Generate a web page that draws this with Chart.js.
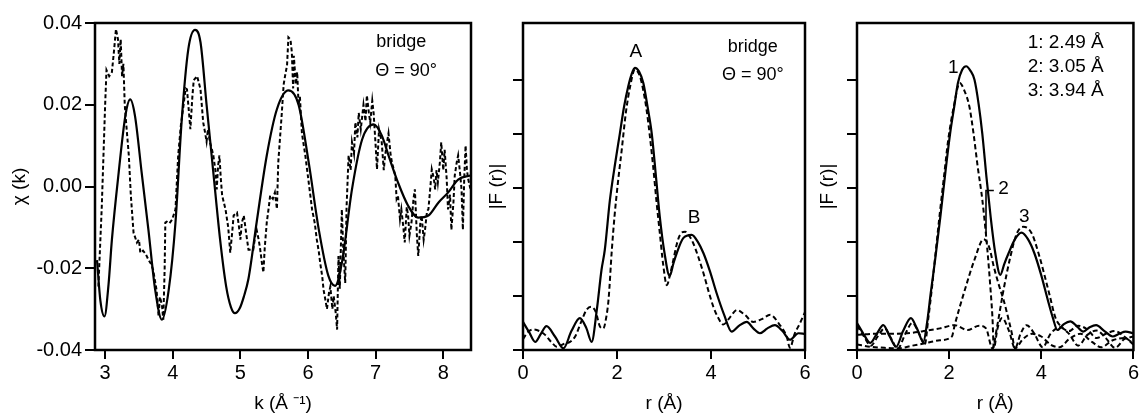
<!DOCTYPE html>
<html>
<head>
<meta charset="utf-8">
<script src="https://cdn.jsdelivr.net/npm/chart.js@4.4.0/dist/chart.umd.min.js"></script>
<style>
  html, body { margin: 0; padding: 0; background: #fff; }
  body { width: 1141px; height: 413px; position: relative; overflow: hidden; }
  canvas { position: absolute; top: 0; }
</style>
</head>
<body>
<canvas id="chi" width="478" height="413" style="left:0px"></canvas>
<canvas id="ft" width="337" height="413" style="left:478px"></canvas>
<canvas id="shells" width="326" height="413" style="left:815px"></canvas>
<script>
// χ(k) : 実験（破線）とフィット（実線）
const kFit = [2.88, 2.93, 2.99, 3.05, 3.10, 3.20, 3.30, 3.37, 3.44, 3.54, 3.64, 3.74, 3.84, 3.94, 4.04, 4.13, 4.23, 4.33, 4.41, 4.50, 4.60, 4.70, 4.79, 4.86, 4.92, 4.99, 5.05, 5.12, 5.24, 5.39, 5.54, 5.71, 5.86, 6.01, 6.16, 6.30, 6.40, 6.50, 6.65, 6.80, 6.97, 7.09, 7.19, 7.33, 7.48, 7.63, 7.78, 7.93, 8.07, 8.22, 8.40];
const chiFit = [-0.018, -0.028, -0.0318, -0.024, -0.013, 0.0034, 0.0174, 0.0213, 0.0174, 0.0034, -0.0106, -0.0253, -0.0326, -0.0253, -0.0088, 0.0157, 0.0336, 0.0383, 0.0353, 0.020, 0.0034, -0.013, -0.0245, -0.0295, -0.031, -0.0298, -0.027, -0.0225, -0.0088, 0.0076, 0.0189, 0.0235, 0.020, 0.0059, -0.0106, -0.0218, -0.0243, -0.0187, -0.0007, 0.0115, 0.0152, 0.0125, 0.0076, 0.001, -0.0047, -0.0076, -0.0071, -0.0039, -0.0015, 0.0017, 0.0027];

const kExp = [2.90, 2.95, 3.00, 3.02, 3.06, 3.10, 3.13, 3.16, 3.19, 3.21, 3.23, 3.25, 3.27, 3.29, 3.31, 3.35, 3.38, 3.42, 3.47, 3.50, 3.52, 3.56, 3.60, 3.64, 3.68, 3.71, 3.76, 3.79, 3.81, 3.84, 3.86, 3.88, 3.89, 3.91, 3.95, 3.99, 4.04, 4.08, 4.12, 4.16, 4.19, 4.21, 4.24, 4.26, 4.29, 4.31, 4.36, 4.41, 4.45, 4.48, 4.50, 4.52, 4.55, 4.58, 4.60, 4.63, 4.65, 4.67, 4.69, 4.71, 4.73, 4.78, 4.82, 4.85, 4.88, 4.90, 4.95, 4.98, 5.00, 5.02, 5.05, 5.09, 5.12, 5.16, 5.19, 5.22, 5.24, 5.27, 5.29, 5.32, 5.34, 5.36, 5.39, 5.42, 5.44, 5.48, 5.51, 5.54, 5.56, 5.61, 5.64, 5.66, 5.69, 5.71, 5.74, 5.76, 5.78, 5.79, 5.82, 5.84, 5.86, 5.88, 5.90, 5.91, 5.96, 6.01, 6.06, 6.10, 6.13, 6.16, 6.18, 6.21, 6.23, 6.26, 6.28, 6.31, 6.33, 6.36, 6.38, 6.41, 6.43, 6.45, 6.47, 6.50, 6.52, 6.55, 6.57, 6.60, 6.63, 6.65, 6.68, 6.70, 6.73, 6.75, 6.78, 6.82, 6.85, 6.87, 6.90, 6.92, 6.95, 6.97, 7.00, 7.02, 7.05, 7.07, 7.09, 7.12, 7.14, 7.17, 7.19, 7.22, 7.24, 7.27, 7.29, 7.31, 7.33, 7.36, 7.38, 7.41, 7.43, 7.46, 7.48, 7.50, 7.53, 7.56, 7.58, 7.61, 7.63, 7.66, 7.68, 7.71, 7.73, 7.76, 7.78, 7.81, 7.83, 7.86, 7.88, 7.90, 7.92, 7.95, 7.97, 8.00, 8.02, 8.05, 8.07, 8.10, 8.12, 8.15, 8.17, 8.20, 8.22, 8.25, 8.27, 8.29, 8.31, 8.33, 8.35, 8.37, 8.40];
const chiExp = [-0.0245, -0.005, 0.020, 0.0285, 0.027, 0.028, 0.033, 0.0385, 0.036, 0.030, 0.036, 0.027, 0.030, 0.020, 0.0157, 0.0076, -0.0022, -0.0113, -0.0137, -0.013, -0.0162, -0.0157, -0.0165, -0.0179, -0.019, -0.0204, -0.0253, -0.0317, -0.027, -0.029, -0.0326, -0.020, -0.0088, -0.0086, -0.009, -0.0081, -0.0056, 0.0076, 0.015, 0.020, 0.024, 0.0238, 0.018, 0.014, 0.022, 0.026, 0.027, 0.0238, 0.0157, 0.013, 0.011, 0.014, 0.0108, 0.009, 0.0076, 0.004, -0.0007, 0.005, 0.0076, 0.002, -0.0022, -0.0056, -0.010, -0.0162, -0.011, -0.0071, -0.0064, -0.010, -0.013, -0.009, -0.0071, -0.012, -0.0155, -0.0155, -0.0155, -0.012, -0.0106, -0.013, -0.015, -0.019, -0.021, -0.015, -0.0088, -0.005, -0.0022, -0.003, -0.0015, -0.0055, 0.0059, 0.0174, 0.025, 0.027, 0.0297, 0.0365, 0.036, 0.033, 0.024, 0.032, 0.025, 0.028, 0.020, 0.022, 0.016, 0.013, 0.0076, 0.001, -0.0056, -0.009, -0.013, -0.016, -0.0187, -0.022, -0.0253, -0.028, -0.030, -0.026, -0.0245, -0.030, -0.0268, -0.031, -0.035, -0.017, -0.025, -0.0056, -0.015, -0.0236, -0.005, 0.0076, 0.004, 0.0108, 0.008, 0.0157, 0.012, 0.018, 0.014, 0.020, 0.016, 0.0223, 0.018, 0.0157, 0.021, 0.018, 0.010, 0.0042, 0.014, 0.0125, 0.0108, 0.004, 0.0076, 0.011, 0.013, 0.008, 0.006, 0.004, 0.0027, -0.003, -0.0022, -0.008, -0.0056, -0.010, -0.0137, -0.005, -0.0071, -0.012, -0.0088, -0.003, -0.0007, -0.012, -0.017, -0.009, -0.0071, -0.013, -0.0106, -0.006, -0.0056, 0.0, 0.0042, 0.002, -0.0007, 0.004, 0.001, 0.006, 0.0108, 0.004, 0.009, 0.002, -0.0056, -0.002, -0.0106, -0.004, 0.0027, 0.006, 0.0076, 0.003, -0.0007, -0.0106, 0.002, 0.010, 0.004, 0.0017, -0.0005];

const kTicks = [3, 4, 5, 6, 7, 8];
const chiTicks = [-0.04, -0.02, 0.00, 0.02, 0.04];

// |F(r)| : フーリエ変換（中央）
const rFit = [0.0, 0.13, 0.26, 0.38, 0.50, 0.68, 0.86, 1.03, 1.21, 1.35, 1.46, 1.57, 1.67, 1.74, 1.85, 1.96, 2.06, 2.15, 2.24, 2.31, 2.38, 2.47, 2.56, 2.65, 2.74, 2.83, 2.91, 3.01, 3.12, 3.20, 3.27, 3.41, 3.59, 3.72, 3.84, 3.98, 4.12, 4.28, 4.44, 4.60, 4.76, 4.90, 5.04, 5.20, 5.36, 5.52, 5.68, 5.86, 6.0];
const fFit = [0.52, 0.33, 0.15, 0.30, 0.44, 0.25, 0.03, 0.35, 0.59, 0.40, 0.15, 0.74, 1.48, 1.85, 2.78, 3.45, 4.0, 4.5, 4.88, 5.10, 5.22, 5.15, 4.94, 4.5, 4.0, 3.2, 2.47, 1.80, 1.37, 1.60, 1.79, 2.07, 2.13, 2.0, 1.79, 1.45, 1.05, 0.65, 0.34, 0.45, 0.52, 0.40, 0.31, 0.40, 0.46, 0.35, 0.19, 0.31, 0.30];
const rExp = [0.0, 0.10, 0.22, 0.35, 0.47, 0.60, 0.72, 0.89, 1.0, 1.11, 1.25, 1.35, 1.45, 1.55, 1.64, 1.71, 1.77, 1.82, 1.89, 1.95, 2.02, 2.10, 2.19, 2.28, 2.38, 2.49, 2.56, 2.63, 2.70, 2.77, 2.84, 2.91, 2.98, 3.06, 3.13, 3.20, 3.27, 3.34, 3.45, 3.53, 3.62, 3.73, 3.84, 3.95, 4.05, 4.15, 4.26, 4.40, 4.55, 4.72, 4.90, 5.08, 5.26, 5.45, 5.61, 5.68, 5.78, 5.89, 6.0];
const fExp = [0.20, 0.33, 0.38, 0.35, 0.28, 0.15, 0.06, 0.12, 0.15, 0.25, 0.55, 0.74, 0.80, 0.70, 0.43, 0.40, 0.60, 0.93, 1.85, 2.5, 3.1, 3.70, 4.4, 4.88, 5.19, 5.06, 4.8, 4.44, 3.95, 3.39, 2.75, 2.17, 1.6, 1.20, 1.4, 1.67, 1.95, 2.13, 2.19, 2.12, 1.98, 1.72, 1.42, 1.08, 0.80, 0.60, 0.47, 0.60, 0.74, 0.65, 0.52, 0.57, 0.65, 0.48, 0.25, 0.04, 0.30, 0.49, 0.70];

// |F(r)| : 殻ごとの分解（右）
const rTot = [0.0, 0.14, 0.29, 0.43, 0.57, 0.71, 0.85, 1.0, 1.17, 1.30, 1.44, 1.52, 1.60, 1.70, 1.81, 1.92, 2.02, 2.11, 2.19, 2.28, 2.37, 2.46, 2.55, 2.64, 2.72, 2.81, 2.90, 3.0, 3.11, 3.20, 3.29, 3.43, 3.57, 3.71, 3.85, 4.0, 4.14, 4.25, 4.35, 4.49, 4.63, 4.77, 4.91, 5.05, 5.19, 5.37, 5.55, 5.69, 5.83, 6.0];
const fTot = [0.50, 0.30, 0.13, 0.30, 0.46, 0.25, 0.06, 0.35, 0.59, 0.40, 0.15, 0.50, 1.05, 1.70, 2.47, 3.30, 4.0, 4.5, 4.94, 5.18, 5.25, 5.17, 5.0, 4.55, 4.0, 3.2, 2.47, 1.80, 1.39, 1.60, 1.79, 2.05, 2.17, 2.05, 1.79, 1.38, 0.93, 0.60, 0.37, 0.48, 0.53, 0.44, 0.34, 0.42, 0.46, 0.35, 0.25, 0.30, 0.34, 0.31];
const rS1 = [0.0, 0.15, 0.30, 0.45, 0.60, 0.75, 0.88, 1.05, 1.20, 1.35, 1.47, 1.55, 1.62, 1.70, 1.80, 1.90, 1.98, 2.10, 2.23, 2.33, 2.44, 2.53, 2.62, 2.72, 2.83, 2.90, 2.94, 2.97, 3.05, 3.15, 3.30, 3.43, 3.55, 3.68, 3.85, 4.03, 4.20, 4.40, 4.60, 4.80, 5.0, 5.20, 5.40, 5.60, 5.80, 6.0];
const fS1 = [0.45, 0.25, 0.08, 0.25, 0.40, 0.20, 0.02, 0.30, 0.50, 0.30, 0.10, 0.60, 1.10, 1.75, 2.55, 3.30, 3.89, 4.5, 4.94, 4.8, 4.5, 4.0, 3.39, 2.78, 1.85, 1.10, 0.60, 0.03, 0.40, 0.59, 0.35, 0.03, 0.30, 0.46, 0.30, 0.05, 0.30, 0.42, 0.30, 0.08, 0.28, 0.36, 0.22, 0.04, 0.20, 0.25];
const rS2 = [0.0, 0.30, 0.60, 0.90, 1.20, 1.45, 1.80, 2.06, 2.12, 2.34, 2.55, 2.75, 2.87, 2.97, 3.08, 3.18, 3.28, 3.36, 3.43, 3.60, 3.80, 4.0, 4.20, 4.40, 4.60, 4.85, 5.10, 5.30, 5.55, 5.80, 6.0];
const fS2 = [0.10, 0.06, 0.04, 0.03, 0.08, 0.12, 0.18, 0.25, 0.46, 1.11, 1.67, 2.05, 1.90, 1.54, 1.20, 0.93, 0.60, 0.31, 0.03, 0.20, 0.30, 0.25, 0.10, 0.05, 0.20, 0.30, 0.15, 0.05, 0.18, 0.22, 0.12];
const rS3 = [0.0, 0.40, 0.80, 1.20, 1.45, 1.80, 2.12, 2.40, 2.65, 2.80, 2.94, 3.04, 3.18, 3.33, 3.47, 3.61, 3.79, 3.96, 4.17, 4.31, 4.45, 4.60, 4.80, 5.0, 5.20, 5.40, 5.60, 5.80, 6.0];
const fS3 = [0.28, 0.30, 0.30, 0.32, 0.35, 0.40, 0.46, 0.37, 0.45, 0.40, 0.03, 0.43, 1.11, 1.73, 2.16, 2.28, 2.16, 1.73, 1.05, 0.59, 0.42, 0.35, 0.45, 0.38, 0.22, 0.30, 0.35, 0.25, 0.10];

// 「2」の引き出し線
const leadR = [2.97, 2.80, 2.80];
const leadF = [2.95, 2.95, 2.13];

const rTicks = [0, 2, 4, 6];
const fTicks = [0, 1, 2, 3, 4, 5];

const FONT = '"Liberation Sans", Arial, Helvetica, sans-serif';
Chart.defaults.font.family = FONT;
Chart.defaults.color = '#000';

function pts(xs, ys) {
  return xs.map((x, i) => ({ x: x, y: ys[i] }));
}

// 枠線
const boxPlugin = {
  id: 'box',
  afterDatasetsDraw(chart) {
    const { ctx, chartArea: a } = chart;
    ctx.save();
    ctx.strokeStyle = '#000';
    ctx.lineWidth = 2.5;
    ctx.strokeRect(a.left, a.top, a.right - a.left, a.bottom - a.top);
    ctx.restore();
  }
};

// 図中の文字
const notesPlugin = {
  id: 'notes',
  afterDraw(chart, args, opts) {
    const { ctx } = chart;
    const xs = chart.scales.x, ys = chart.scales.y;
    (opts.items || []).forEach(n => {
      ctx.save();
      ctx.font = n.size + 'px ' + FONT;
      ctx.fillStyle = '#000';
      ctx.textAlign = 'center';
      ctx.textBaseline = 'middle';
      ctx.fillText(n.text, xs.getPixelForValue(n.x), ys.getPixelForValue(n.y));
      ctx.restore();
    });
  }
};

function solid(data) {
  return { data: data, borderColor: '#000', borderWidth: 2.2, pointRadius: 0, fill: false, cubicInterpolationMode: 'monotone' };
}
function dashed(data) {
  return { data: data, borderColor: '#000', borderWidth: 2, borderDash: [5, 3], pointRadius: 0, fill: false, cubicInterpolationMode: 'monotone' };
}

function makeChart(id, cfg) {
  return new Chart(document.getElementById(id), {
    type: 'line',
    data: { datasets: cfg.datasets },
    options: {
      responsive: false,
      animation: false,
      layout: { padding: { top: 23, right: cfg.padRight, bottom: 0, left: 0 }, autoPadding: false },
      plugins: {
        legend: { display: false },
        tooltip: { enabled: false },
        notes: { items: cfg.notes }
      },
      scales: {
        x: {
          type: 'linear',
          min: cfg.xMin, max: cfg.xMax,
          afterBuildTicks: s => { s.ticks = cfg.xTicks.map(v => ({ value: v })); },
          afterFit: s => { s.height = 63; },
          ticks: { font: { size: 20 }, color: '#000', padding: 2, maxRotation: 0, autoSkip: false },
          grid: { drawOnChartArea: false, drawTicks: true, tickLength: 9, color: '#000', lineWidth: 2 },
          border: { display: false },
          title: { display: true, text: cfg.xTitle, font: { size: 19, lineHeight: 1 }, color: '#000', padding: { top: 0, bottom: 0 } }
        },
        y: {
          type: 'linear',
          min: cfg.yMin, max: cfg.yMax,
          afterBuildTicks: s => { s.ticks = cfg.yTicks.map(v => ({ value: v })); },
          afterFit: s => { s.width = cfg.yWidth; },
          ticks: { font: { size: 20 }, color: '#000', padding: 3, callback: cfg.yLabel },
          grid: { drawOnChartArea: false, drawTicks: true, tickLength: 10, color: '#000', lineWidth: 2 },
          border: { display: false },
          title: { display: true, text: cfg.yTitle, font: { size: 19, lineHeight: 1 }, color: '#000', padding: { top: cfg.yTitlePad, bottom: 0 } }
        }
      }
    },
    plugins: [boxPlugin, notesPlugin]
  });
}

const expChi = dashed(pts(kExp, chiExp));
expChi.cubicInterpolationMode = 'default';
expChi.tension = 0;
expChi.borderDash = [4, 2.5];

makeChart('chi', {
  datasets: [solid(pts(kFit, chiFit)), expChi],
  xMin: 2.85, xMax: 8.41, xTicks: kTicks, xTitle: 'k (Å ⁻¹)',
  yMin: -0.04, yMax: 0.04, yTicks: chiTicks, yTitle: 'χ (k)',
  yLabel: v => v.toFixed(2), yWidth: 95, yTitlePad: 10, padRight: 7,
  notes: [
    { text: 'bridge', x: 7.38, y: 0.0353, size: 18 },
    { text: 'Θ = 90°', x: 7.45, y: 0.0282, size: 18 }
  ]
});

makeChart('ft', {
  datasets: [solid(pts(rFit, fFit)), dashed(pts(rExp, fExp))],
  xMin: 0, xMax: 6, xTicks: rTicks, xTitle: 'r (Å)',
  yMin: 0, yMax: 6.05, yTicks: fTicks, yTitle: '|F (r)|',
  yLabel: () => '', yWidth: 45, yTitlePad: 9, padRight: 10,
  notes: [
    { text: 'A', x: 2.40, y: 5.52, size: 19 },
    { text: 'B', x: 3.64, y: 2.44, size: 19 },
    { text: 'bridge', x: 4.89, y: 5.61, size: 18 },
    { text: 'Θ = 90°', x: 4.89, y: 5.09, size: 18 }
  ]
});

const lead = { data: pts(leadR, leadF), borderColor: '#000', borderWidth: 1.6, pointRadius: 0, fill: false, tension: 0 };

makeChart('shells', {
  datasets: [solid(pts(rTot, fTot)), dashed(pts(rS1, fS1)), dashed(pts(rS2, fS2)), dashed(pts(rS3, fS3)), lead],
  xMin: 0, xMax: 6, xTicks: rTicks, xTitle: 'r (Å)',
  yMin: 0, yMax: 6.05, yTicks: fTicks, yTitle: '|F (r)|',
  yLabel: () => '', yWidth: 42, yTitlePad: 3, padRight: 1,
  notes: [
    { text: '1', x: 2.09, y: 5.22, size: 19 },
    { text: '2', x: 3.18, y: 2.98, size: 19 },
    { text: '3', x: 3.63, y: 2.47, size: 19 },
    { text: '1: 2.49 Å', x: 4.53, y: 5.69, size: 19 },
    { text: '2: 3.05 Å', x: 4.53, y: 5.24, size: 19 },
    { text: '3: 3.94 Å', x: 4.53, y: 4.80, size: 19 }
  ]
});
</script>
</body>
</html>
